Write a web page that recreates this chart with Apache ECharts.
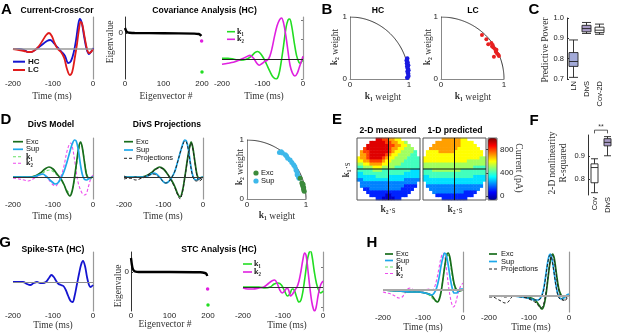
<!DOCTYPE html>
<html>
<head>
<meta charset="utf-8">
<script src="https://cdn.jsdelivr.net/npm/echarts@6/dist/echarts.min.js"></script>
<style>
  html, body { margin: 0; padding: 0; background: #fff; }
  #chart { width: 617px; height: 334px; }
</style>
</head>
<body>
<div id="chart"></div>
<script>
// ---------- values (a.u. unless noted) ----------
// A: current cross-correlation
const crossHC = [[-200,0],[-185,0],[-172,-1],[-162,-3],[-155,-3],[-145,-1],[-135,2],[-125,5],[-115,8],[-107,9],[-100,7],[-92,3],[-85,0],[-78,-3],[-70,-7],[-62,-14],[-55,-12],[-48,-3],[-42,10],[-37,24],[-33,30],[-28,26],[-22,12],[-16,0],[-10,-5],[-5,-3],[0,1]]
const crossLC = [[-200,0],[-185,-1],[-172,-2],[-162,-3],[-155,-3],[-145,-1],[-135,3],[-125,9],[-117,14],[-110,16],[-103,13],[-96,6],[-88,0],[-80,-3],[-72,-9],[-65,-20],[-58,-26],[-52,-23],[-46,-10],[-40,5],[-35,20],[-31,27],[-27,25],[-21,12],[-15,0],[-10,-4],[-5,-3],[0,0]]
// A: covariance eigenvalues
const covEig = [[0,5],[2,3],[4,1.5],[7,0.7],[12,0.3],[25,0],[100,-0.3],[180,-0.6],[192,-1],[196,-2],[198,-3]]
const covEigK2 = [[199,-8]]
const covEigK1 = [[200,-39]]
// A: covariance filters
const covK1 = [[-200,1],[-185,1],[-170,0],[-155,-1],[-140,0],[-128,3],[-118,7],[-112,8],[-105,6],[-97,1],[-90,-5],[-82,-12],[-74,-18],[-66,-20],[-60,-16],[-54,-3],[-48,14],[-42,32],[-37,40],[-33,41],[-28,34],[-22,18],[-16,4],[-10,-3],[-6,-4],[-3,-2],[0,-1]]
const covK2 = [[-200,-5],[-185,-4],[-172,-3],[-158,-1],[-147,1],[-138,3],[-131,4],[-122,1],[-114,-4],[-108,-6],[-100,-4],[-94,-2],[-88,-1],[-82,3],[-76,12],[-70,24],[-64,34],[-58,40],[-53,42],[-48,37],[-42,23],[-37,8],[-32,-6],[-26,-14],[-20,-17],[-14,-14],[-9,-8],[-4,-2],[0,3]]
// B: filter weights
const weightsHC = [[0.97,0.02],[0.99,0.05],[0.985,0.09],[0.975,0.12],[0.99,0.14],[0.98,0.17],[0.97,0.2],[0.985,0.22],[0.965,0.25],[0.975,0.27],[0.96,0.3],[0.97,0.33]]
const weightsLC = [[0.65,0.71],[0.72,0.64],[0.75,0.56],[0.81,0.53],[0.82,0.55],[0.83,0.51],[0.86,0.48],[0.87,0.44],[0.88,0.47],[0.89,0.41],[0.91,0.39],[0.84,0.36],[0.92,0.37],[0.8,0.58]]
// C: predictive power [min, q1, median, q3, max]
const powerCats = ['LN', 'DivS', 'Cov-2D']
const powerBoxes = [[0.708,0.762,0.786,0.83,0.892],[0.924,0.932,0.948,0.964,0.978],[0.92,0.928,0.94,0.955,0.97]]
// D: DivS model
const divExc = [[-200,0],[-160,0],[-145,1],[-132,4],[-120,8],[-110,10],[-100,8],[-90,3],[-80,-2],[-72,-8],[-65,-15],[-58,-19],[-52,-14],[-46,0],[-40,18],[-35,31],[-31,35],[-27,30],[-21,14],[-16,2],[-10,-1],[0,0]]
const divSup = [[-200,0],[-150,0],[-135,2],[-125,3],[-118,1],[-110,-2],[-102,-5],[-95,-7],[-88,-6],[-80,-1],[-72,6],[-65,15],[-58,25],[-52,33],[-46,37],[-42,36],[-37,28],[-32,14],[-27,3],[-22,-2],[-16,-3],[-8,-1],[0,0]]
const divK1 = [[-200,0],[-160,0],[-145,1],[-130,3],[-118,6],[-108,7],[-98,5],[-88,1],[-78,-4],[-70,-10],[-62,-15],[-56,-16],[-50,-10],[-44,3],[-38,20],[-33,31],[-29,32],[-25,26],[-19,10],[-13,0],[-8,-2],[0,-1]]
const divK2 = [[-200,-1],[-185,-2],[-172,-3],[-162,-4],[-150,-2],[-138,1],[-130,3],[-122,2],[-112,-2],[-102,-7],[-94,-9],[-86,-5],[-78,3],[-72,12],[-66,24],[-60,32],[-56,34],[-51,29],[-45,14],[-38,-4],[-30,-14],[-22,-18],[-17,-17],[-11,-9],[-5,-1],[0,2]]
const projExc = [[-200,0],[-160,0],[-145,1],[-132,4],[-120,8],[-110,10],[-100,8],[-90,3],[-80,-3],[-72,-9],[-64,-17],[-58,-20],[-52,-14],[-46,0],[-40,16],[-34,30],[-30,35],[-26,30],[-20,14],[-15,2],[-10,-1],[0,0]]
const projSup = [[-200,0],[-150,0],[-135,2],[-125,4],[-118,3],[-110,0],[-102,-4],[-95,-6],[-88,-5],[-80,-1],[-72,5],[-65,14],[-58,24],[-52,32],[-46,37],[-42,36],[-37,28],[-32,14],[-27,3],[-22,-2],[-16,-3],[-8,-1],[0,0]]
const projExcFit = [[-200,-2],[-185,-1],[-170,-3],[-155,-1],[-140,2],[-128,5],[-118,8],[-108,9],[-98,7],[-88,2],[-80,-4],[-72,-10],[-64,-18],[-58,-22],[-52,-15],[-46,-1],[-40,15],[-34,29],[-30,34],[-26,29],[-20,13],[-15,1],[-10,-4],[-5,-3],[0,-1]]
const projSupFit = [[-200,1],[-185,-1],[-170,0],[-155,-1],[-140,1],[-128,3],[-118,2],[-110,-1],[-102,-4],[-95,-6],[-88,-5],[-80,-1],[-72,5],[-65,14],[-58,24],[-52,31],[-46,36],[-42,35],[-37,27],[-32,13],[-27,2],[-22,-3],[-16,-4],[-8,-2],[0,0]]
const weightsExc = [[0.9,0.35],[0.93,0.27],[0.94,0.24],[0.95,0.21],[0.96,0.16],[0.97,0.13],[0.96,0.19],[0.95,0.25]]
const weightsSup = [[0.55,0.79],[0.58,0.8],[0.6,0.78],[0.65,0.75],[0.67,0.73],[0.69,0.69],[0.73,0.66],[0.76,0.62],[0.79,0.58],[0.81,0.55],[0.83,0.49],[0.85,0.45],[0.85,0.41],[0.88,0.35],[0.87,0.38]]
// E: nonlinearity maps, one digit per cell = hundreds of pA, '.' = no data
const measuredRows = [
  '......99887766......',
  '....999998877665....',
  '...99999998877665...',
  '..8999999987766555..',
  '.788999999876655554.',
  '.778999998766555544.',
  '67789999876655554444',
  '66778888766555544444',
  '55667777665555444444',
  '44555666555544444444',
  '44444555444444444333',
  '33444444444444433333',
  '33333344443333333333',
  '22333333333333322222',
  '.222222222222222222.',
  '.222222222222221111.',
  '..1122222222221111..',
  '...11111111111111...',
  '....111110011111....',
  '......11000011......'
]
const predictedRows = [
  '......77777766......',
  '....777777776666....',
  '...77777777766666...',
  '..7777777776666666..',
  '.666677777666666666.',
  '.666666666666666666.',
  '66666666666666666655',
  '66666666666666555555',
  '55555555555555555555',
  '55555555555555554444',
  '44455555555544444444',
  '44444444444444444444',
  '33444444444444443333',
  '33333333333333333333',
  '.333333333333333333.',
  '.222222222222222222.',
  '..2222222222222222..',
  '...22222222221111...',
  '....111111111111....',
  '......11111111......'
]
const currentTicks = [0, 400, 800]
// F: R-squared
const r2Cats = ['Cov', 'DivS']
const r2Boxes = [[0.74,0.783,0.849,0.865,0.887],[0.9,0.943,0.958,0.974,0.983]]
// G: spike STA / STC
const staHC = [[-200,0],[-185,0],[-175,0],[-165,-2],[-157,-3],[-148,-1],[-140,0],[-132,-1],[-125,-1],[-118,0],[-110,4],[-104,7],[-98,5],[-92,1],[-86,-2],[-80,-3],[-74,-4],[-68,-8],[-62,-14],[-56,-19],[-51,-20],[-46,-14],[-40,-2],[-35,8],[-30,17],[-25,21],[-20,16],[-15,5],[-10,-3],[-6,-5],[0,-3]]
const stcEig = [[0,14],[1,11],[2,8],[4,4],[7,1.5],[12,0.3],[20,0],[100,0],[180,-0.3],[192,-1],[196,-2],[198,-4]]
const stcEigK2 = [[199,-17]]
const stcEigK1 = [[200,-33]]
const stcK1 = [[-200,0],[-180,0],[-160,0],[-145,-1],[-132,0],[-122,3],[-112,4],[-104,2],[-96,-4],[-89,-9],[-83,-7],[-77,-2],[-72,-3],[-66,-10],[-60,-15],[-55,-13],[-50,-4],[-45,10],[-40,25],[-35,34],[-31,36],[-27,30],[-22,16],[-16,3],[-10,-4],[-6,-6],[-2,-5],[0,-4]]
const stcK2 = [[-200,-1],[-188,-2],[-175,-2],[-160,-1],[-148,0],[-138,3],[-128,6],[-121,7],[-114,3],[-108,-3],[-102,-6],[-96,-4],[-90,-1],[-86,-3],[-81,-9],[-76,-7],[-70,-3],[-65,0],[-60,6],[-55,16],[-50,28],[-46,34],[-42,31],[-38,18],[-33,0],[-28,-15],[-24,-22],[-21,-24],[-17,-20],[-12,-8],[-6,2],[0,6]]
// H: spike-based DivS
const spExc = [[-200,0],[-160,-1],[-130,-2],[-110,-2],[-95,-3],[-85,-4],[-77,-6],[-70,-10],[-64,-12],[-59,-9],[-54,0],[-49,14],[-44,28],[-40,36],[-37,37],[-33,33],[-28,20],[-22,6],[-16,0],[-10,-1],[0,0]]
const spSup = [[-200,0],[-160,-1],[-130,-2],[-110,-2],[-95,-3],[-85,-4],[-78,-5],[-72,-3],[-66,2],[-60,12],[-55,24],[-50,33],[-46,37],[-42,35],[-37,25],[-32,12],[-27,2],[-22,-3],[-16,-3],[-10,0],[-5,1],[0,1]]
const spK1 = [[-200,0],[-160,-1],[-130,-1],[-110,-2],[-95,-3],[-85,-5],[-77,-8],[-70,-11],[-64,-12],[-59,-8],[-54,1],[-49,15],[-44,28],[-40,34],[-37,35],[-33,30],[-28,17],[-22,4],[-16,-1],[-10,-1],[0,0]]
const spK2 = [[-200,-2],[-190,-3],[-180,-4],[-170,-6],[-160,-8],[-152,-7],[-145,-3],[-138,1],[-131,2],[-124,0],[-115,-1],[-105,-1],[-95,0],[-85,1],[-78,0],[-72,2],[-66,10],[-60,22],[-55,32],[-50,37],[-46,34],[-41,20],[-36,3],[-31,-9],[-27,-15],[-24,-17],[-20,-15],[-14,-6],[-8,2],[-4,5],[0,7]]
const spProjExc = [[-200,0],[-170,0],[-140,0],[-120,0],[-105,-1],[-95,-2],[-85,-4],[-77,-8],[-72,-11],[-68,-13],[-63,-10],[-58,0],[-53,16],[-48,32],[-44,40],[-41,42],[-37,38],[-32,24],[-26,8],[-20,1],[-14,-1],[-8,0],[0,1]]
const spProjSup = [[-200,0],[-170,0],[-140,0],[-120,-1],[-105,-2],[-95,-3],[-85,-4],[-77,-4],[-70,-1],[-64,6],[-59,18],[-54,32],[-50,40],[-47,42],[-43,38],[-38,26],[-33,12],[-28,2],[-23,-2],[-17,-3],[-10,-1],[-5,1],[0,2]]
const spProjExcFit = [[-200,-1],[-190,-1],[-180,-3],[-170,-5],[-160,-7],[-152,-6],[-145,-2],[-138,0],[-125,0],[-110,-1],[-100,-3],[-90,-5],[-82,-7],[-76,-10],[-71,-12],[-66,-11],[-61,-4],[-56,8],[-51,24],[-47,35],[-43,41],[-39,39],[-34,28],[-29,13],[-23,2],[-17,-3],[-12,-5],[-8,-4],[-3,-1],[0,1]]
const spProjSupFit = [[-200,0],[-180,0],[-160,-1],[-140,0],[-120,-1],[-105,-2],[-95,-3],[-85,-4],[-77,-4],[-70,-2],[-64,5],[-59,17],[-54,31],[-50,39],[-47,41],[-43,37],[-38,25],[-33,11],[-28,1],[-23,-3],[-17,-4],[-11,-4],[-5,-1],[0,1]]

// ---------- styling ----------
const SANS = '"Liberation Sans", Arial, sans-serif'
const SERIF = '"Liberation Serif", "Times New Roman", serif'
const LET = 'bold 15px ' + SANS
const TTL = 'bold 8.6px ' + SANS
const AX = '9.5px ' + SERIF
const LEG = '7.5px ' + SANS
const C_HC = '#1515d0', C_LC = '#e01b1b'
const C_K1 = '#22dd22', C_K2 = '#e020e0'
const C_EXC = '#186d1c', C_SUP = '#1ea8ea'
const C_K1D = '#66e066', C_K2D = '#ee4cee'
const jet = ['#00008f','#0000ff','#0080ff','#00ffff','#80ff80','#ffff00','#ff8000','#ff0000','#800000']
const tickLbl = { fontSize: 8, color: '#222', fontFamily: SANS, margin: 1 }

const grid = [], xAxis = [], yAxis = [], series = [], graphic = []

function addGrid(l, t, w, h, extra) {
  grid.push(Object.assign({ left: l, top: t, width: w, height: h }, extra || {}))
  return grid.length - 1
}

function timePanel(l, t, w, h, ymin, ymax, ticks, margin) {
  const gi = addGrid(l, t, w, h)
  xAxis.push({ gridIndex: gi, type: 'value', min: -200, max: 0, interval: 100,
    axisLine: { show: false }, axisTick: { show: false }, splitLine: { show: false },
    axisLabel: Object.assign({}, tickLbl, { margin: margin || 1 }) })
  yAxis.push({ gridIndex: gi, type: 'value', position: 'right', min: ymin, max: ymax,
    axisLine: { show: true, lineStyle: { color: '#999', width: 1.2 } },
    axisTick: ticks ? { show: true, inside: true, length: 2, customValues: ticks, lineStyle: { color: '#777' } } : { show: false },
    axisLabel: { show: false }, splitLine: { show: false } })
  return gi
}

function eigenPanel(l, t, w, h, ymin, ymax) {
  const gi = addGrid(l, t, w, h)
  xAxis.push({ gridIndex: gi, type: 'value', min: 0, max: 200, interval: 100,
    axisLine: { show: false }, axisTick: { show: false }, splitLine: { show: false }, axisLabel: tickLbl })
  yAxis.push({ gridIndex: gi, type: 'value', min: ymin, max: ymax,
    axisLine: { show: true, lineStyle: { color: '#333' } },
    axisTick: { show: true, inside: true, length: 2, customValues: [0] },
    axisLabel: Object.assign({}, tickLbl, { margin: 2, customValues: [0] }), splitLine: { show: false } })
  return gi
}

function weightPanel(l, t, w, h) {
  const gi = addGrid(l, t, w, h)
  const common = { type: 'value', min: 0, max: 1, interval: 1, splitLine: { show: false },
    axisLine: { show: true, lineStyle: { color: '#888' } }, axisTick: { show: false } }
  xAxis.push(Object.assign({ gridIndex: gi, axisLabel: Object.assign({}, tickLbl, { margin: 2 }) }, common))
  yAxis.push(Object.assign({ gridIndex: gi, axisLabel: Object.assign({}, tickLbl, { margin: 3 }) }, common))
  return gi
}

function boxPanel(l, t, w, h, cats, ymin, ymax, yticks) {
  const gi = addGrid(l, t, w, h)
  xAxis.push({ gridIndex: gi, type: 'category', data: cats, axisLine: { show: false }, axisTick: { show: false },
    axisLabel: Object.assign({}, tickLbl, { rotate: 90, interval: 0, margin: 2, fontSize: 7.5 }) })
  yAxis.push({ gridIndex: gi, type: 'value', min: ymin, max: ymax, splitLine: { show: false },
    axisLine: { show: true, lineStyle: { color: '#333' } },
    axisTick: { show: true, inside: true, length: 2, customValues: yticks },
    axisLabel: Object.assign({}, tickLbl, { fontSize: 7.5, margin: 3, customValues: yticks, formatter: v => v.toFixed(1) }) })
  return gi
}

function heatPanel(l, t, w, h) {
  const gi = addGrid(l, t, w, h)
  const idx = Array.from({ length: 20 }, (_, i) => String(i))
  xAxis.push({ gridIndex: gi, type: 'category', data: idx, show: false })
  yAxis.push({ gridIndex: gi, type: 'category', data: idx, inverse: true, show: false })
  return gi
}

function overlayPanel(l, t, w, h) {
  const gi = addGrid(l, t, w, h, { show: true, borderColor: '#555', borderWidth: 1, backgroundColor: 'transparent', z: 5 })
  xAxis.push({ gridIndex: gi, type: 'value', min: -1, max: 1, show: false })
  yAxis.push({ gridIndex: gi, type: 'value', min: -1, max: 1, show: false })
  return gi
}

function curve(gi, data, color, width, dash) {
  series.push({ type: 'line', xAxisIndex: gi, yAxisIndex: gi, data: data, smooth: 0.35, symbol: 'none',
    lineStyle: { color: color, width: width, type: dash ? [3, 2] : 'solid' }, z: 3 })
}

function zeroLine(gi, color, width) {
  series.push({ type: 'line', xAxisIndex: gi, yAxisIndex: gi, data: [], symbol: 'none', silent: true, z: 1,
    markLine: { silent: true, symbol: ['none', 'none'], label: { show: false }, animation: false,
      lineStyle: { color: color, width: width, type: 'solid' }, data: [{ yAxis: 0 }] } })
}

function dots(gi, data, color, size) {
  series.push({ type: 'scatter', xAxisIndex: gi, yAxisIndex: gi, data: data, symbolSize: size,
    itemStyle: { color: color, opacity: 1 }, z: 4 })
}

// unit-circle guide used by the weight panels
const unitArc = []
for (let a = 0; a <= 90; a += 2) unitArc.push([Math.cos(a * Math.PI / 180), Math.sin(a * Math.PI / 180)])
function arc(gi) {
  series.push({ type: 'line', xAxisIndex: gi, yAxisIndex: gi, data: unitArc, symbol: 'none', smooth: true,
    lineStyle: { color: '#222', width: 0.9 }, z: 2 })
}

function boxes(gi, data, fills, bw) {
  series.push({ type: 'boxplot', xAxisIndex: gi, yAxisIndex: gi, boxWidth: [bw, bw],
    data: data.map((d, i) => ({ value: d, itemStyle: { color: fills[i], borderColor: '#222', borderWidth: 0.9 } })) })
}

function cells(rows) {
  const out = []
  rows.forEach((r, i) => {
    for (let j = 0; j < r.length; j++) if (r[j] !== '.') out.push([j, i, Number(r[j]) * 100])
  })
  return out
}

function txt(s, x, y, font, o) {
  o = o || {}
  graphic.push({ type: 'text', x: x, y: y, rotation: o.rot || 0, z: 100, silent: true,
    style: { text: s, font: font, fill: o.fill || '#111', rich: o.rich,
      textAlign: o.align || 'center', textVerticalAlign: 'middle', align: o.align || 'center', verticalAlign: 'middle' } })
}
function swatch(x1, x2, y, color, w, dash) {
  graphic.push({ type: 'line', silent: true, z: 100, shape: { x1: x1, y1: y, x2: x2, y2: y },
    style: { stroke: color, lineWidth: w, lineDash: dash || null } })
}
function dotKey(cx, cy, color) {
  graphic.push({ type: 'circle', silent: true, z: 100, shape: { cx: cx, cy: cy, r: 2.6 }, style: { fill: color } })
}
const kRich = { k: { font: 'bold 9.5px ' + SERIF } }
const kRichLeg = { k: { font: 'bold 8px ' + SERIF } }

// ---------- A ----------
const gA1 = timePanel(13, 17, 80, 62, -30, 32)
zeroLine(gA1, '#9a9a9a', 1.6)
curve(gA1, crossHC, C_HC, 1.8)
curve(gA1, crossLC, C_LC, 1.8)

const gA2 = eigenPanel(125, 17, 77, 62, -46, 16)
series.push({ type: 'line', xAxisIndex: gA2, yAxisIndex: gA2, data: covEig, smooth: 0.3, symbol: 'none',
  lineStyle: { color: '#000', width: 2.4 }, z: 3 })
dots(gA2, covEigK2, C_K2, 3.5)
dots(gA2, covEigK1, C_K1, 3.5)

const gA3 = timePanel(222, 17, 81, 62, -20, 43, [-20, 0, 20, 40])
zeroLine(gA3, '#222', 1)
curve(gA3, covK1, C_K1, 1.6)
curve(gA3, covK2, C_K2, 1.6)

// ---------- B ----------
const gB1 = weightPanel(350, 17, 59, 62)
arc(gB1)
dots(gB1, weightsHC, '#1a1ae0', 4.5)
const gB2 = weightPanel(441, 17, 63, 62)
arc(gB2)
dots(gB2, weightsLC, '#e82020', 4)

// ---------- C ----------
const gC = boxPanel(567, 18, 39, 61, powerCats, 0.7, 1.0, [0.7, 0.8, 0.9, 1.0])
boxes(gC, powerBoxes, ['#a3aad8', '#a99cc6', '#ffffff'], 9)

// ---------- D ----------
const gD1 = timePanel(13, 138, 80, 61, -22, 39, null, 2)
zeroLine(gD1, '#333', 1)
curve(gD1, divK1, C_K1D, 1.1, true)
curve(gD1, divK2, C_K2D, 1.1, true)
curve(gD1, divExc, C_EXC, 1.7)
curve(gD1, divSup, C_SUP, 1.7)

const gD2 = timePanel(124, 138, 79, 61, -22, 39, null, 2)
zeroLine(gD2, '#333', 1)
curve(gD2, projExc, C_EXC, 1.7)
curve(gD2, projSup, C_SUP, 1.7)
curve(gD2, projExcFit, '#222', 1, true)
curve(gD2, projSupFit, '#222', 1, true)

const gD3 = weightPanel(247, 140, 59, 59)
arc(gD3)
dots(gD3, weightsSup, '#3db8ea', 5)
dots(gD3, weightsExc, '#3b8a3b', 5)

// ---------- E ----------
const gE1 = heatPanel(357, 138, 63, 62)
const gE2 = heatPanel(423, 138, 63, 62)
const heatIdx = series.length
series.push({ type: 'heatmap', xAxisIndex: gE1, yAxisIndex: gE1, data: cells(measuredRows), z: 2 })
series.push({ type: 'heatmap', xAxisIndex: gE2, yAxisIndex: gE2, data: cells(predictedRows), z: 2 })
;[[357, 138], [423, 138]].forEach(p => {
  const go = overlayPanel(p[0], p[1], 63, 62)
  series.push({ type: 'line', xAxisIndex: go, yAxisIndex: go, data: [[0, -1], [0, 1]], symbol: 'none', lineStyle: { color: '#111', width: 1 }, z: 6 })
  series.push({ type: 'line', xAxisIndex: go, yAxisIndex: go, data: [[-1, 0], [1, 0]], symbol: 'none', lineStyle: { color: '#111', width: 1 }, z: 6 })
})
const gCb = addGrid(488, 138, 9, 62, { show: true, borderColor: '#444', borderWidth: 0.8, backgroundColor: 'transparent', z: 5 })
xAxis.push({ gridIndex: gCb, type: 'value', show: false })
yAxis.push({ gridIndex: gCb, type: 'value', position: 'right', min: -70, max: 1000, splitLine: { show: false },
  axisLine: { show: false }, axisTick: { show: true, inside: true, length: 2, customValues: currentTicks, lineStyle: { color: '#333' } },
  axisLabel: Object.assign({}, tickLbl, { margin: 3, customValues: currentTicks }) })

// ---------- F ----------
const gF = boxPanel(588, 135, 26, 60, r2Cats, 0.73, 0.99, [0.8, 0.9])
boxes(gF, r2Boxes, ['#ffffff', '#a99cc6'], 7)
series.push({ type: 'line', xAxisIndex: gF, yAxisIndex: gF, data: [[0, 0.997], [0, 1.011], [1, 1.011], [1, 0.997]],
  symbol: 'none', clip: false, lineStyle: { color: '#333', width: 0.8 }, z: 3 })

// ---------- G ----------
const gG1 = timePanel(13, 252, 80, 59, -29, 30)
zeroLine(gG1, '#8a8a8a', 1.2)
curve(gG1, staHC, C_HC, 1.8)

const gG2 = eigenPanel(131, 252, 77, 59, -39, 20)
series.push({ type: 'line', xAxisIndex: gG2, yAxisIndex: gG2, data: stcEig, smooth: 0.3, symbol: 'none',
  lineStyle: { color: '#000', width: 2.4 }, z: 3 })
dots(gG2, stcEigK2, C_K2, 3.5)
dots(gG2, stcEigK1, C_K1, 3.5)

const gG3 = timePanel(243, 252, 80, 59, -24, 35, [-20, 0, 20])
zeroLine(gG3, '#333', 1)
curve(gG3, stcK1, C_K1, 1.6)
curve(gG3, stcK2, C_K2, 1.6)

// ---------- H ----------
const gH1 = timePanel(383, 252, 80, 60, -22, 38, null, 2)
zeroLine(gH1, '#a8a8a8', 1.8)
curve(gH1, spK1, C_K1D, 1.1, true)
curve(gH1, spK2, C_K2D, 1.1, true)
curve(gH1, spExc, C_EXC, 1.7)
curve(gH1, spSup, C_SUP, 1.7)

const gH2 = timePanel(489, 252, 80, 60, -16, 44, null, 2)
zeroLine(gH2, '#a8a8a8', 1.8)
curve(gH2, spProjExc, C_EXC, 1.7)
curve(gH2, spProjSup, C_SUP, 1.7)
curve(gH2, spProjExcFit, '#222', 1, true)
curve(gH2, spProjSupFit, '#222', 1, true)

// ---------- text: panel letters, titles, axis names ----------
;[['A', 6.5, 9.5], ['B', 327, 9.5], ['C', 534, 10], ['D', 6, 119.5], ['E', 337, 120], ['F', 534, 121], ['G', 5, 243], ['H', 372, 243]]
  .forEach(l => txt(l[0], l[1], l[2], LET, { fill: '#000' }))
;[['Current-CrossCor', 57, 11], ['Covariance Analysis (HC)', 204.5, 11], ['HC', 378, 11], ['LC', 473, 11],
  ['DivS Model', 51, 125], ['DivS Projections', 167, 125], ['2-D measured', 388, 131], ['1-D predicted', 455, 131],
  ['Spike-STA (HC)', 53, 250], ['STC Analysis (HC)', 219, 250]]
  .forEach(l => txt(l[0], l[1], l[2], TTL, { fill: '#000' }))
;[['Time (ms)', 52, 96], ['Eigenvector #', 166, 96], ['Time (ms)', 264, 96], ['Time (ms)', 52, 216], ['Time (ms)', 163, 216],
  ['Time (ms)', 53, 325], ['Eigenvector #', 165, 324], ['Time (ms)', 287, 325], ['Time (ms)', 423, 327], ['Time (ms)', 531, 327]]
  .forEach(l => txt(l[0], l[1], l[2], AX, { fill: '#333' }))
txt('Eigenvalue', 110, 42, AX, { rot: Math.PI / 2, fill: '#333' })
txt('Eigenvalue', 118, 286, AX, { rot: Math.PI / 2, fill: '#333' })
txt('Predictive Power', 545, 50, AX, { rot: Math.PI / 2, fill: '#333' })
txt('2-D nonlinearity', 552, 163, AX, { rot: Math.PI / 2, fill: '#333' })
txt('R-squared', 563, 163, AX, { rot: Math.PI / 2, fill: '#333' })
txt('Current (pA)', 518, 168, AX, { rot: -Math.PI / 2, fill: '#333' })
;[[383, 97], [473, 97], [277, 216]].forEach(p => txt('{k|k₁} weight', p[0], p[1], AX, { rich: kRich, fill: '#333' }))
;[[335, 47], [428, 47], [240, 167]].forEach(p => txt('{k|k₂} weight', p[0], p[1], AX, { rich: kRich, fill: '#333', rot: Math.PI / 2 }))
txt('{k|k₁}·s', 347, 170, AX, { rich: kRich, fill: '#333', rot: Math.PI / 2 })
txt('{k|k₂}·s', 388, 210, AX, { rich: kRich, fill: '#333' })
txt('{k|k₂}·s', 455, 210, AX, { rich: kRich, fill: '#333' })
txt('**', 601, 127, '7px ' + SANS, { fill: '#333' })

// ---------- legends ----------
swatch(13, 25, 61.7, C_HC, 2); txt('HC', 28, 61.7, 'bold 8px ' + SANS, { align: 'left' })
swatch(13, 25, 70, C_LC, 2); txt('LC', 28, 70, 'bold 8px ' + SANS, { align: 'left' })
swatch(227, 235, 31.7, C_K1, 1.6); txt('{k|k₁}', 237, 31.7, LEG, { align: 'left', rich: kRichLeg })
swatch(227, 235, 39.3, C_K2, 1.6); txt('{k|k₂}', 237, 39.3, LEG, { align: 'left', rich: kRichLeg })
swatch(13, 23, 141.7, C_EXC, 1.7); txt('Exc', 26, 141.7, LEG, { align: 'left' })
swatch(13, 23, 149.3, C_SUP, 1.7); txt('Sup', 26, 149.3, LEG, { align: 'left' })
swatch(13, 23, 156.7, C_K1D, 1.1, [3, 2]); txt('{k|k₁}', 26, 156.7, LEG, { align: 'left', rich: kRichLeg })
swatch(13, 23, 163.3, C_K2D, 1.1, [3, 2]); txt('{k|k₂}', 26, 163.3, LEG, { align: 'left', rich: kRichLeg })
swatch(124, 133, 141.7, C_EXC, 1.7); txt('Exc', 136, 141.7, LEG, { align: 'left' })
swatch(124, 133, 150, C_SUP, 1.7); txt('Sup', 136, 150, LEG, { align: 'left' })
swatch(124, 133, 158.3, '#222', 1, [3, 2]); txt('Projections', 136, 158.3, LEG, { align: 'left' })
dotKey(256, 173, '#3b8a3b'); txt('Exc', 261, 173, LEG, { align: 'left' })
dotKey(256, 181, '#3db8ea'); txt('Sup', 261, 181, LEG, { align: 'left' })
swatch(243, 252, 264, C_K1, 1.6); txt('{k|k₁}', 254, 264, LEG, { align: 'left', rich: kRichLeg })
swatch(243, 252, 272, C_K2, 1.6); txt('{k|k₂}', 254, 272, LEG, { align: 'left', rich: kRichLeg })
swatch(385, 393, 254, C_EXC, 1.7); txt('Exc', 396, 254, LEG, { align: 'left' })
swatch(385, 393, 260.5, C_SUP, 1.7); txt('Sup', 396, 260.5, LEG, { align: 'left' })
swatch(385, 393, 267, C_K1D, 1.1, [3, 2]); txt('{k|k₁}', 396, 267, LEG, { align: 'left', rich: kRichLeg })
swatch(385, 393, 273.5, C_K2D, 1.1, [3, 2]); txt('{k|k₂}', 396, 273.5, LEG, { align: 'left', rich: kRichLeg })
swatch(489, 497, 254, C_EXC, 1.7); txt('Exc', 501, 254, LEG, { align: 'left' })
swatch(489, 497, 261.5, C_SUP, 1.7); txt('Sup', 501, 261.5, LEG, { align: 'left' })
swatch(489, 497, 269, '#222', 1, [3, 2]); txt('Projections', 501, 269, LEG, { align: 'left' })

const chart = echarts.init(document.getElementById('chart'))
chart.setOption({
  animation: false,
  backgroundColor: '#fff',
  textStyle: { fontFamily: SANS },
  grid: grid,
  xAxis: xAxis,
  yAxis: yAxis,
  visualMap: {
    type: 'continuous', min: -70, max: 1000, seriesIndex: [heatIdx, heatIdx + 1],
    inRange: { color: jet }, calculable: false, hoverLink: false, orient: 'vertical',
    left: 488, top: 138, itemWidth: 9, itemHeight: 62, text: null, padding: 0
  },
  series: series,
  graphic: graphic
})
</script>
</body>
</html>
